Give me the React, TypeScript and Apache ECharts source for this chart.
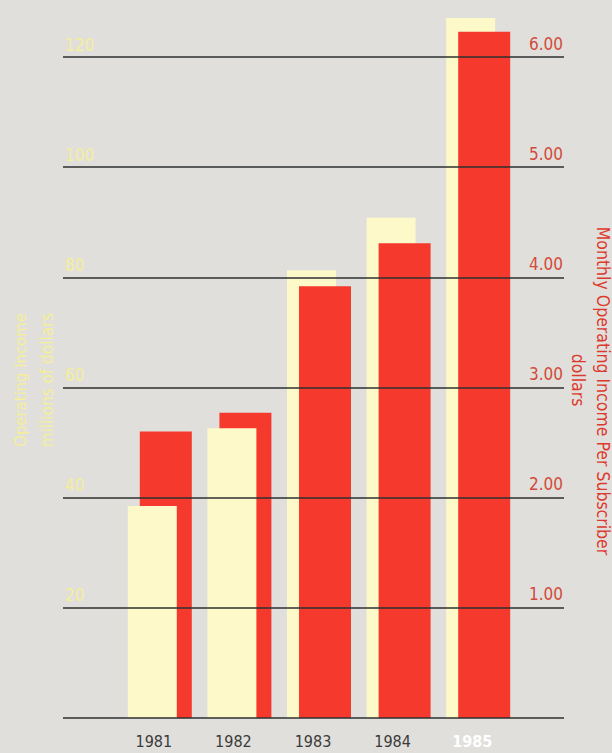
import { useEffect, useRef } from "react";
import * as echarts from "echarts";

const years = ["1981", "1982", "1983", "1984", "1985"];
const frontYears = ["1981", "1982"];
const operatingIncome = [38.5, 52.6, 81.3, 90.8, 127.1];
const perSubscriber = [2.6, 2.77, 3.92, 4.31, 6.23];
const leftMax = 120;
const leftInterval = 20;
const rightMax = 6;
const rightInterval = 1;
const leftTitle = ["Operating Income", "millions of dollars"];
const rightTitle = ["Monthly Operating Income Per Subscriber", "dollars"];

const BG = "#e0dfdb";
const YELLOW = "#fdf9c8";
const RED = "#f5392c";
const LEFT_TXT = "#f5ee9c";
const RIGHT_TXT = "#d24a3a";
const RIGHT_TITLE = "#dd3a2e";
const LINE = "#2c3131";
const FONT = "'Liberation Sans Narrow', 'DejaVu Sans Condensed', Roboto, sans-serif";

export default function App() {
  const ref = useRef<HTMLDivElement>(null);
  useEffect(() => {
    document.body.style.margin = "0";
    const chart = echarts.init(ref.current!, undefined, { renderer: "svg" });
    const backYellow = years.map((y, i) => (frontYears.includes(y) ? "-" : operatingIncome[i]));
    const frontYellow = years.map((y, i) => (frontYears.includes(y) ? operatingIncome[i] : "-"));
    chart.setOption({
      animation: false,
      backgroundColor: BG,
      grid: [
        { left: 63, right: 48, top: 57, bottom: 35 },
        { left: 120, width: 398, top: 57, bottom: 35 },
      ],
      xAxis: [
        { gridIndex: 0, type: "value", min: 0, max: 1, show: false },
        {
          gridIndex: 1,
          type: "category",
          data: years.map((y, i) =>
            i === years.length - 1
              ? { value: y, textStyle: { color: "#ffffff", fontWeight: "bold" } }
              : y
          ),
          axisLine: { show: false },
          axisTick: { show: false },
          axisLabel: {
            margin: 15,
            padding: [0, 12, 0, 0],
            color: "#3a3a3a",
            fontSize: 16,
            fontFamily: FONT,
          },
        },
      ],
      yAxis: [
        {
          gridIndex: 0,
          type: "value",
          min: 0,
          max: leftMax,
          interval: leftInterval,
          position: "left",
          z: 10,
          axisLine: { show: false },
          axisTick: { show: false },
          splitLine: { show: true, lineStyle: { color: LINE, width: 1.5 } },
          axisLabel: {
            inside: true,
            margin: 2,
            align: "left",
            verticalAlign: "bottom",
            padding: [0, 0, 4, 0],
            color: LEFT_TXT,
            fontSize: 17,
            fontFamily: FONT,
            formatter: (v: number) => (v === 0 ? "" : String(v)),
          },
        },
        {
          gridIndex: 0,
          type: "value",
          min: 0,
          max: rightMax,
          interval: rightInterval,
          position: "right",
          z: 10,
          axisLine: { show: false },
          axisTick: { show: false },
          splitLine: { show: false },
          axisLabel: {
            inside: true,
            margin: 1,
            align: "right",
            verticalAlign: "bottom",
            padding: [0, 0, 5, 0],
            color: RIGHT_TXT,
            fontSize: 17,
            fontFamily: FONT,
            formatter: (v: number) => (v === 0 ? "" : v.toFixed(2)),
          },
        },
        { gridIndex: 1, type: "value", min: 0, max: leftMax, show: false },
        { gridIndex: 1, type: "value", min: 0, max: rightMax, show: false },
      ],
      series: [
        {
          type: "bar",
          xAxisIndex: 1,
          yAxisIndex: 2,
          stack: "income",
          data: backYellow,
          barWidth: 49,
          barGap: "-75.5%",
          itemStyle: { color: YELLOW },
          z: 2,
          clip: false,
        },
        {
          type: "bar",
          xAxisIndex: 1,
          yAxisIndex: 3,
          stack: "sub",
          data: perSubscriber,
          barWidth: 52,
          barGap: "-75.5%",
          itemStyle: { color: RED },
          z: 3,
          clip: false,
        },
        {
          type: "bar",
          xAxisIndex: 1,
          yAxisIndex: 2,
          stack: "income",
          data: frontYellow,
          barWidth: 49,
          barGap: "-75.5%",
          itemStyle: { color: YELLOW },
          z: 4,
          clip: false,
        },
      ],
      graphic: [
        {
          type: "text",
          x: 20,
          y: 380,
          rotation: Math.PI / 2,
          style: {
            text: leftTitle[0],
            fill: LEFT_TXT,
            font: `16.5px ${FONT}`,
            align: "center",
            verticalAlign: "middle",
          },
        },
        {
          type: "text",
          x: 47,
          y: 380,
          rotation: Math.PI / 2,
          style: {
            text: leftTitle[1],
            fill: LEFT_TXT,
            font: `17px ${FONT}`,
            align: "center",
            verticalAlign: "middle",
          },
        },
        {
          type: "text",
          x: 603,
          y: 391,
          rotation: -Math.PI / 2,
          style: {
            text: rightTitle[0],
            fill: RIGHT_TITLE,
            font: `17.5px ${FONT}`,
            align: "center",
            verticalAlign: "middle",
          },
        },
        {
          type: "text",
          x: 578,
          y: 380,
          rotation: -Math.PI / 2,
          style: {
            text: rightTitle[1],
            fill: RIGHT_TITLE,
            font: `17.5px ${FONT}`,
            align: "center",
            verticalAlign: "middle",
          },
        },
      ],
    });
    return () => chart.dispose();
  }, []);
  return <div ref={ref} style={{ width: 612, height: 753 }} />;
}
